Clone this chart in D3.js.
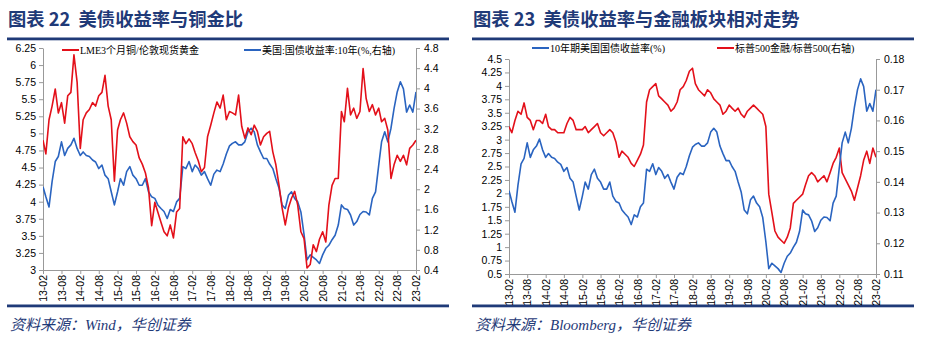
<!DOCTYPE html>
<html>
<head>
<meta charset="utf-8">
<script src="https://cdn.jsdelivr.net/npm/d3@7"></script>
<style>
body{margin:0;background:#fff;}
svg{display:block;font-family:"Liberation Serif","Noto Sans CJK SC",serif;}
.title{font-family:"Noto Sans CJK SC",sans-serif;font-weight:700;font-size:18.3px;fill:#1f3a78;white-space:pre;}
.src{font-family:"Liberation Serif","Noto Sans CJK SC",serif;font-style:italic;font-size:15px;fill:#1f3a78;}
.axis text{font-size:10.5px;fill:#000;}
.axis path,.axis line{stroke:#999;}
.legend{font-size:10px;fill:#000;}
</style>
</head>
<body>
<svg width="927" height="338"></svg>
<script>
// monthly readings, 2013-02 .. 2023-02
var copperGold = [4.9,4.7,5.2,5.4,5.65,5.3,5.45,5.15,5.55,5.6,6.15,5.75,4.78,5.2,5.3,5.35,5.45,5.4,5.55,5.6,
5.85,5.4,5.2,4.3,5.05,5.2,5.3,5.15,4.95,4.88,4.83,4.64,4.55,4.42,4.2,3.65,3.99,3.85,3.7,3.56,
3.5,3.66,3.47,3.85,3.9,4.95,4.85,4.92,4.85,4.72,4.6,4.44,4.5,4.95,5.12,5.3,5.46,5.37,5.56,5.2,
5.32,5.3,5.27,5.56,5.1,4.93,5.08,4.98,5.12,5.03,4.83,4.95,5.0,5.03,4.73,4.54,4.24,3.91,3.66,3.91,
4.05,4.15,3.95,3.56,3.46,3.03,3.08,3.37,3.27,3.45,3.56,3.41,3.95,4.24,4.34,4.34,5.32,5.17,5.66,5.27,
5.37,5.22,5.32,5.95,5.51,5.32,5.42,5.27,5.37,5.17,5.22,5.05,4.34,4.54,4.68,4.59,4.68,4.54,4.78,4.83,4.9];

var ust10y = [2.05,1.85,1.65,2.15,2.55,2.65,2.94,2.67,2.81,2.88,3.01,2.81,2.67,2.74,2.67,2.65,2.58,2.54,2.41,2.48,
2.28,2.21,1.95,1.69,1.95,2.21,2.08,2.35,2.45,2.28,2.21,2.08,2.08,2.21,1.95,1.85,1.82,1.69,1.62,1.56,
1.42,1.6,1.56,1.75,1.82,2.45,2.41,2.55,2.35,2.48,2.41,2.28,2.35,2.21,2.08,2.3,2.38,2.35,2.5,2.7,
2.86,2.91,2.94,2.88,2.88,2.94,3.14,3.21,3.14,2.88,2.74,2.61,2.61,2.5,2.41,2.21,2.02,1.69,1.62,1.88,
1.95,1.82,1.75,1.55,1.1,0.6,0.7,0.65,0.6,0.53,0.7,0.83,0.89,1.0,1.09,1.29,1.69,1.62,1.6,1.49,
1.29,1.36,1.5,1.56,1.55,1.49,1.82,1.95,2.48,2.94,3.14,2.94,3.21,3.6,3.93,4.13,3.99,3.53,3.67,3.53,3.93];

var finRatio = [0.158,0.156,0.16,0.163,0.162,0.1657,0.161,0.16,0.157,0.16,0.16,0.159,0.162,0.158,0.157,0.157,0.156,0.156,0.156,0.159,
0.161,0.16,0.157,0.157,0.157,0.158,0.156,0.157,0.158,0.159,0.156,0.155,0.156,0.157,0.156,0.153,0.148,0.15,0.149,0.148,
0.146,0.145,0.147,0.149,0.152,0.166,0.17,0.171,0.172,0.168,0.167,0.166,0.165,0.163,0.164,0.166,0.17,0.171,0.173,0.176,
0.177,0.172,0.17,0.169,0.168,0.17,0.169,0.167,0.166,0.165,0.162,0.163,0.165,0.164,0.163,0.164,0.162,0.161,0.163,0.164,
0.165,0.164,0.163,0.162,0.158,0.136,0.13,0.124,0.122,0.121,0.12,0.122,0.125,0.133,0.134,0.135,0.136,0.139,0.142,0.143,
0.142,0.14,0.141,0.142,0.14,0.143,0.146,0.148,0.151,0.143,0.141,0.139,0.137,0.134,0.138,0.142,0.147,0.15,0.146,0.151,0.148];

var months = d3.timeMonth.range(new Date(2013,1,1), new Date(2023,1,2));

var xTickLabels = ["13-02","13-08","14-02","14-08","15-02","15-08","16-02","16-08","17-02","17-08","18-02",
"18-08","19-02","19-08","20-02","20-08","21-02","21-08","22-02","22-08","23-02"];

var leftTicksA = [3,3.25,3.5,3.75,4,4.25,4.5,4.75,5,5.25,5.5,5.75,6,6.25];
var rightTicksA = [0.4,0.8,1.2,1.6,2,2.4,2.8,3.2,3.6,4,4.4,4.8];
var leftTicksB = [0.5,0.75,1,1.25,1.5,1.75,2,2.25,2.5,2.75,3,3.25,3.5,3.75,4,4.25,4.5];
var rightTicksB = [0.11,0.12,0.13,0.14,0.15,0.16,0.17,0.18];

var red = "#e3101a";
var blue = "#2a64c0";
var navy = "#1f3a78";

var svg = d3.select("svg");
var parseTick = d3.timeParse("%y-%m");

function drawPanel(cfg){
    var g = svg.append("g");

    g.append("text").attr("class","title")
    .attr("x", cfg.x0 + 1).attr("y", 26)
    .text(cfg.title);

    g.append("rect").attr("x", cfg.x0).attr("y", 37.5)
    .attr("width", 442).attr("height", 2.8).attr("fill", navy);
    g.append("rect").attr("x", cfg.x0).attr("y", 304.5)
    .attr("width", 442).attr("height", 2.8).attr("fill", navy);

    g.append("text").attr("class","src")
    .attr("x", cfg.x0 + 3).attr("y", 330)
    .text(cfg.source);

    var x = d3.scaleTime()
    .domain([months[0], months[months.length-1]])
    .range([cfg.left, cfg.right]);

    var yL = d3.scaleLinear().domain(cfg.leftDomain).range([cfg.bottom, cfg.top]);
    var yR = d3.scaleLinear().domain(cfg.rightDomain).range([cfg.bottom, cfg.top]);

    var fmt = function(d){ return d3.format("")(+d.toFixed(2)); };

    g.append("g").attr("class","axis")
    .attr("transform","translate(" + cfg.left + ",0)")
    .call(d3.axisLeft(yL).tickValues(cfg.leftTicks).tickSize(4).tickSizeOuter(0).tickFormat(fmt));

    g.append("g").attr("class","axis")
    .attr("transform","translate(" + cfg.right + ",0)")
    .call(d3.axisRight(yR).tickValues(cfg.rightTicks).tickSize(4).tickSizeOuter(0).tickFormat(fmt))
    .selectAll("text").attr("x", 8);

    var xa = g.append("g").attr("class","axis")
    .attr("transform","translate(0," + cfg.bottom + ")")
    .call(d3.axisBottom(x).tickValues(xTickLabels.map(parseTick)).tickSize(4).tickSizeOuter(0)
    .tickFormat(d3.timeFormat("%y-%m")));
    xa.selectAll("text")
    .attr("transform","rotate(-90)")
    .attr("x", -5).attr("y", 0).attr("dy","0.35em")
    .style("text-anchor","end");

    var clipId = "clip" + cfg.x0;
    g.append("clipPath").attr("id", clipId).append("rect")
    .attr("x", cfg.left).attr("y", cfg.top - 2)
    .attr("width", cfg.right - cfg.left).attr("height", cfg.bottom - cfg.top + 2);

    cfg.series.forEach(function(s){
        var yS = s.axis == "left" ? yL : yR;
        var line = d3.line()
        .x(function(d,i){ return x(months[i]); })
        .y(function(d){ return yS(d); });
        g.append("path")
        .attr("clip-path","url(#" + clipId + ")")
        .attr("d", line(s.values))
        .attr("fill","none")
        .attr("stroke", s.color)
        .attr("stroke-width", 1.6)
        .attr("stroke-linejoin","round");
    });

    cfg.legend.forEach(function(l){
        g.append("line")
        .attr("x1", l.x).attr("x2", l.x + 17)
        .attr("y1", l.y).attr("y2", l.y)
        .attr("stroke", l.color).attr("stroke-width", 2);
        g.append("text").attr("class","legend")
        .attr("x", l.x + 18).attr("y", l.y + 3.5)
        .text(l.text);
    });
}

drawPanel({
    x0: 7,
    title: "图表 22  美债收益率与铜金比",
    source: "资料来源：Wind，华创证券",
    left: 43, right: 416, top: 48, bottom: 270,
    leftDomain: [3, 6.25], rightDomain: [0.4, 4.8],
    leftTicks: leftTicksA, rightTicks: rightTicksA,
    series: [
        {values: ust10y, axis: "right", color: blue},
        {values: copperGold, axis: "left", color: red}
    ],
    legend: [
        {x: 62, y: 50, color: red, text: "LME3个月铜/伦敦现货黄金"},
        {x: 244, y: 50, color: blue, text: "美国:国债收益率:10年(%,右轴)"}
    ]
});

drawPanel({
    x0: 472,
    title: "图表 23  美债收益率与金融板块相对走势",
    source: "资料来源：Bloomberg，华创证券",
    left: 509, right: 876, top: 59, bottom: 274,
    leftDomain: [0.5, 4.5], rightDomain: [0.11, 0.18],
    leftTicks: leftTicksB, rightTicks: rightTicksB,
    series: [
        {values: finRatio, axis: "right", color: red},
        {values: ust10y, axis: "left", color: blue}
    ],
    legend: [
        {x: 532, y: 48, color: blue, text: "10年期美国国债收益率(%)"},
        {x: 717, y: 48, color: red, text: "标普500金融/标普500(右轴)"}
    ]
});
</script>
</body>
</html>
